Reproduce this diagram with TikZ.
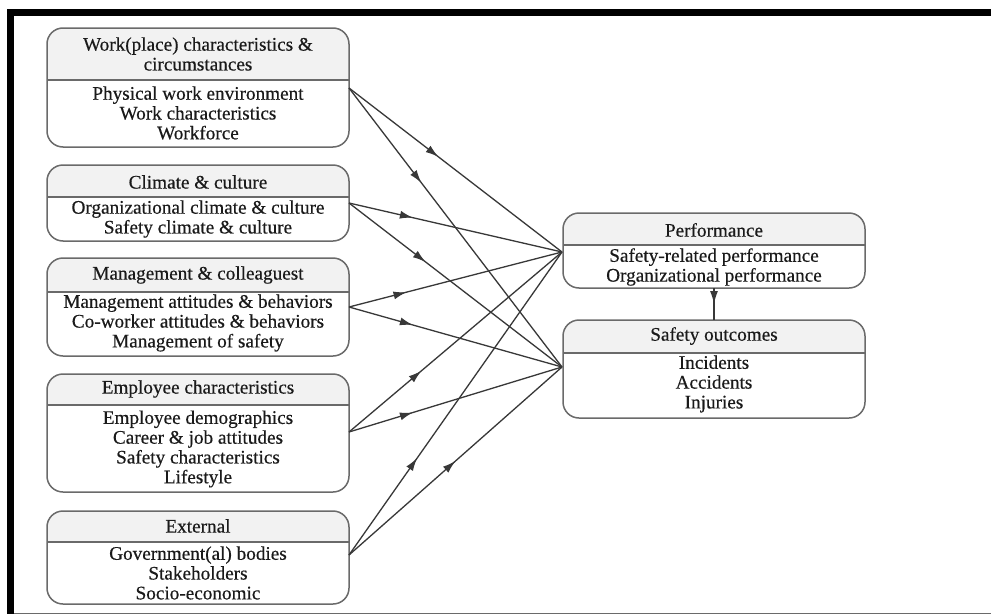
\documentclass[tikz,border=0pt]{standalone}
\usepackage{fontspec}
\setmainfont{Liberation Serif}
\newfontfamily\boxserif[FakeBold=0.4]{Liberation Serif}
\usetikzlibrary{arrows.meta,decorations.markings}
\definecolor{boxline}{HTML}{6A6A6A}
\definecolor{hdrfill}{HTML}{F2F2F2}
\definecolor{txt}{HTML}{1A1A1A}
\definecolor{conn}{HTML}{383838}
\tikzset{
  boxshape/.style={draw=boxline, line width=1.5pt, rounded corners=16pt},
  divline/.style={draw=boxline, line width=1.3pt},
  lbl/.style={text=txt, align=center, inner sep=0pt, font=\boxserif\fontsize{19.2}{19.8}\selectfont},
  conline/.style={draw=conn, line width=1.3pt},
  midarrow/.style={postaction={decorate,decoration={markings,
     mark=at position #1 with {\arrow[conn]{Latex[length=13pt,width=8pt]}}}}}
}
\newcommand{\mybox}[6]{% name, x1, y1, x2, y2, ydiv
  \begin{scope}
    \clip[rounded corners=16pt] (#2,#3) rectangle (#4,#5);
    \fill[hdrfill] (#2,#3) rectangle (#4,#6);
  \end{scope}
  \draw[divline] (#2,#6) -- (#4,#6);
  \path[boxshape] (#2,#3) rectangle (#4,#5);
  \coordinate (#1) at ({(#2+#4)/2},{(#3+#5)/2});
}
\begin{document}
\begin{tikzpicture}[x=1pt,y=-1pt]
\useasboundingbox (0,0) rectangle (991,616);
\fill[white] (0,0) rectangle (991,616);
% frame
\fill[black] (7,9) rectangle (991,16);
\fill[black] (7,9) rectangle (14,614);
\draw[boxline, line width=1.4pt] (14,613.5) -- (991,613.5);

% left boxes
\mybox{b1}{47}{28}{349}{147}{80}
\node[lbl] (b1h) at (198,54) {Work(place) characteristics \&\\circumstances};
\node[lbl] (b1b) at (198,113) {Physical work environment\\Work characteristics\\Workforce};

\mybox{b2}{47}{165}{349}{241}{197}
\node[lbl] (b2h) at (198,182) {Climate \& culture};
\node[lbl] (b2b) at (198,219) {Organizational climate \& culture\\Safety climate \& culture};

\mybox{b3}{47}{258}{349}{356}{292}
\node[lbl] (b3h) at (198,275) {Management \& colleaguest};
\node[lbl] (b3b) at (198,323) {Management attitudes \& behaviors\\Co-worker attitudes \& behaviors\\Management of safety};

\mybox{b4}{47}{374}{349}{492}{405}
\node[lbl] (b4h) at (198,389) {Employee characteristics};
\node[lbl] (b4b) at (198,449) {Employee demographics\\Career \& job attitudes\\Safety characteristics\\Lifestyle};

\mybox{b5}{47}{511}{349}{604}{542}
\node[lbl] (b5h) at (198,526) {External};
\node[lbl] (b5b) at (198,573) {Government(al) bodies\\Stakeholders\\Socio-economic};

% right boxes
\mybox{p}{563}{213}{865}{288}{245}
\node[lbl] (ph) at (714,230) {Performance};
\node[lbl] (pb) at (714,267) {Safety-related performance\\Organizational performance};

\mybox{s}{563}{320}{865}{418}{353}
\node[lbl] (sh) at (714,336) {Safety outcomes};
\node[lbl] (sb) at (714,384) {Incidents\\Accidents\\Injuries};

% connector points
\coordinate (o1) at (349,88);
\coordinate (o2) at (349,203);
\coordinate (o3) at (349,307);
\coordinate (o4) at (349,432);
\coordinate (o5) at (349,555);
\coordinate (pin) at (562,252);
\coordinate (sin) at (562,367);
\coordinate (pbot) at (714,288);
\coordinate (stop) at (714,320);

\draw[conline, midarrow=0.42] (o1) -- (pin);
\draw[conline, midarrow=0.34] (o1) -- (sin);
\draw[conline, midarrow=0.30] (o2) -- (pin);
\draw[conline, midarrow=0.36] (o2) -- (sin);
\draw[conline, midarrow=0.27] (o3) -- (pin);
\draw[conline, midarrow=0.30] (o3) -- (sin);
\draw[conline, midarrow=0.34] (o4) -- (pin);
\draw[conline, midarrow=0.30] (o4) -- (sin);
\draw[conline, midarrow=0.32] (o5) -- (pin);
\draw[conline, midarrow=0.50] (o5) -- (sin);
\draw[conline, midarrow=0.50] (pbot) -- (stop);
\end{tikzpicture}
\end{document}
